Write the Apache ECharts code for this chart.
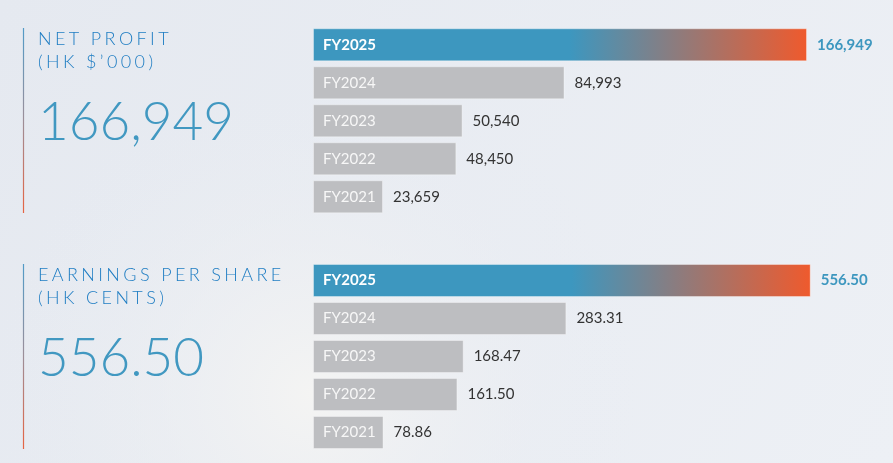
<!DOCTYPE html>
<html>
<head>
<meta charset="utf-8">
<title>Net profit / EPS</title>
<script src="https://cdn.jsdelivr.net/npm/echarts@6/dist/echarts.min.js"></script>
<style>
html,body{margin:0;padding:0;}
#main{width:893px;height:463px;}
</style>
</head>
<body>
<div id="main"></div>
<script>
// 年份及数据
var years = ['FY2025', 'FY2024', 'FY2023', 'FY2022', 'FY2021'];
var profitVals = [166949, 84993, 50540, 48450, 23659];
var epsVals = [556.50, 283.31, 168.47, 161.50, 78.86];
var titles = ['NET PROFIT', '(HK $\u2019000)', 'EARNINGS PER SHARE', '(HK CENTS)'];
var bigNums = ['166,949', '556.50'];

var blue = '#3d97bf';
var grayBar = '#bdbec1';
var FONT = 'Lato';

// 字母间距: 用细空格拉开
function spaced(str) {
	return str.split('').join('\u2009\u200A');
}

function fmtThousand(v) {
	return String(v).replace(/\B(?=(\d{3})+(?!\d))/g, ',');
}
function fmtDec(v) {
	return v.toFixed(2);
}

// 最新一年的渐变
function hotGradient() {
	return new echarts.graphic.LinearGradient(0, 0, 1, 0, [
		{offset: 0, color: blue},
		{offset: 0.52, color: blue},
		{offset: 1, color: '#ef5a2d'}
	]);
}

// 柱子数据, 第一项(最新年份)单独着色并加粗标签
function barData(vals) {
	var arr = [];
	for (var i = 0; i < vals.length; i++) {
		if (i == 0) {
			arr.push({
				value: vals[i],
				itemStyle: {color: hotGradient()},
				label: {fontWeight: 'bold', color: '#ffffff'}
			});
		} else {
			arr.push({value: vals[i]});
		}
	}
	return arr;
}

// 一组柱子 = 主柱(年份标签) + 透明柱(数值标签)
function makeSeries(idx, vals, fmt) {
	return [{
		type: 'bar',
		xAxisIndex: idx,
		yAxisIndex: idx,
		barWidth: 33,
		data: barData(vals),
		itemStyle: {color: grayBar, borderColor: 'rgba(255,255,255,0.35)', borderWidth: 1},
		label: {
			show: true,
			position: 'insideLeft',
			distance: 10,
			formatter: '{b}',
			fontFamily: FONT,
			fontSize: 15,
			color: '#f7f7f7'
		},
		silent: true,
		z: 2
	}, {
		type: 'bar',
		xAxisIndex: idx,
		yAxisIndex: idx,
		barWidth: 33,
		barGap: '-100%',
		data: vals.map(function (v, i) {
			return {
				value: v,
				label: i == 0 ? {color: blue, fontWeight: 'bold'} : {}
			};
		}),
		itemStyle: {color: 'rgba(0,0,0,0)'},
		label: {
			show: true,
			position: 'right',
			distance: 10,
			fontFamily: FONT,
			fontSize: 15,
			color: '#333333',
			formatter: function (p) { return fmt(p.value); }
		},
		silent: true,
		z: 3
	}];
}

// 左侧文字块 + 竖线
function leftBlock(top, t1, t2, big) {
	var line = {
		type: 'line',
		shape: {x1: 23.5, y1: top, x2: 23.5, y2: top + 185},
		style: {
			lineWidth: 1.2,
			stroke: new echarts.graphic.LinearGradient(0, 0, 0, 1, [
				{offset: 0, color: '#4f9bc8'},
				{offset: 0.5, color: '#9c8e98'},
				{offset: 1, color: '#e8623f'}
			])
		}
	};
	var txt = function (s, y, size, color, weight) {
		return {
			type: 'text',
			x: 38,
			y: y,
			style: {
				text: s,
				fontFamily: FONT,
				fontSize: size,
				fontWeight: weight,
				fill: color,
				verticalAlign: 'middle'
			}
		};
	};
	return [
		line,
		txt(spaced(t1), top + 11.5, 18, '#1f7dc3', 300),
		txt(spaced(t2), top + 34.5, 18, '#1f7dc3', 300),
		txt(big, top + 95, 53, '#4198c1', 300)
	];
}

var chart = echarts.init(document.getElementById('main'));

var graphics = [{
	type: 'rect',
	shape: {x: 0, y: 0, width: 893, height: 463},
	style: {
		fill: new echarts.graphic.RadialGradient(0.35, 0.85, 0.7, [
			{offset: 0, color: '#f4f4f3'},
			{offset: 1, color: 'rgba(231,235,242,0)'}
		])
	},
	silent: true,
	z: -10
}];
graphics = graphics.concat(leftBlock(28, titles[0], titles[1], bigNums[0]));
graphics = graphics.concat(leftBlock(264, titles[2], titles[3], bigNums[1]));

chart.setOption({
	animation: false,
	backgroundColor: new echarts.graphic.LinearGradient(0, 0, 1, 1, [
		{offset: 0, color: '#e5e9f0'},
		{offset: 1, color: '#edf0f5'}
	]),
	graphic: graphics,
	grid: [
		{left: 313, right: 86, top: 25.8, height: 190},
		{left: 313, right: 82.3, top: 261.5, height: 190}
	],
	xAxis: [
		{gridIndex: 0, type: 'value', min: 0, max: 'dataMax', show: false},
		{gridIndex: 1, type: 'value', min: 0, max: 'dataMax', show: false}
	],
	yAxis: [
		{gridIndex: 0, type: 'category', data: years, inverse: true, show: false},
		{gridIndex: 1, type: 'category', data: years, inverse: true, show: false}
	],
	series: makeSeries(0, profitVals, fmtThousand).concat(makeSeries(1, epsVals, fmtDec))
});
</script>
</body>
</html>
